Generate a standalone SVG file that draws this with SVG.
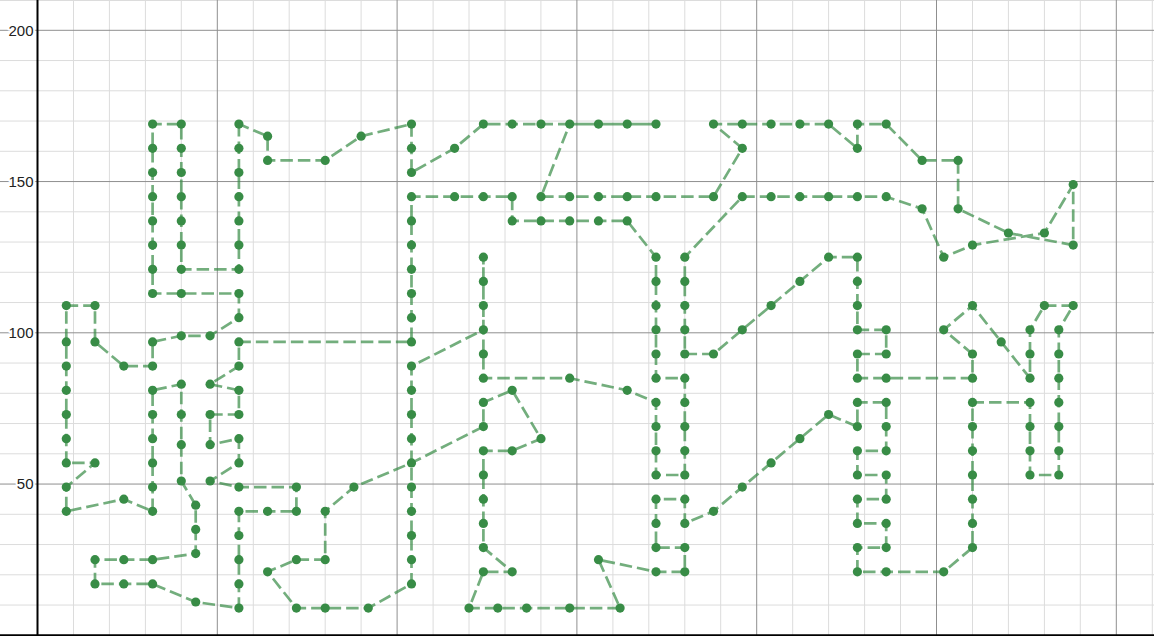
<svg xmlns="http://www.w3.org/2000/svg" width="1154" height="636" viewBox="0 0 1154 636">
<style>
.minor{stroke:#dcdcdc;stroke-width:1}
.major{stroke:#8f8f8f;stroke-width:1}
.axis{stroke:#000;stroke-width:2}
.lbl{font-family:"Liberation Sans",Arial,sans-serif;font-size:15px;fill:#222;text-anchor:end;stroke:#fff;stroke-width:4;paint-order:stroke;stroke-linejoin:round}
.trace{fill:none;stroke:#388c46;stroke-opacity:0.7;stroke-width:2.7;stroke-dasharray:12.5 5;stroke-linejoin:round}
.pt circle{fill:#388c46}
</style>
<defs><circle id="d" r="4.6"/></defs>
<rect width="1154" height="636" fill="#fff"/>
<g id="grid-minor" class="minor">
<path d="M73.5,0V636M109.4,0V636M145.4,0V636M181.3,0V636M253.3,0V636M289.2,0V636M325.2,0V636M361.1,0V636M433.1,0V636M469,0V636M505,0V636M540.9,0V636M612.9,0V636M648.8,0V636M684.8,0V636M720.7,0V636M792.7,0V636M828.6,0V636M864.6,0V636M900.5,0V636M972.5,0V636M1008.4,0V636M1044.4,0V636M1080.3,0V636M1152.3,0V636"/>
<path d="M0,605.05H1154M0,574.8H1154M0,544.55H1154M0,514.3H1154M0,453.8H1154M0,423.55H1154M0,393.3H1154M0,363.05H1154M0,302.55H1154M0,272.3H1154M0,242.05H1154M0,211.8H1154M0,151.3H1154M0,121.05H1154M0,90.8H1154M0,60.55H1154M0,0.5H1154"/>
</g>
<g id="grid-major" class="major">
<path d="M217.3,0V636M397.1,0V636M576.9,0V636M756.7,0V636M936.5,0V636M1116.3,0V636"/>
<path d="M0,484.05H1154M0,332.8H1154M0,181.55H1154M0,30.3H1154"/>
</g>
<g id="axes" class="axis">
<line x1="37.5" y1="0" x2="37.5" y2="636"/>
<line x1="0" y1="635.3" x2="1154" y2="635.3"/>
</g>
<g id="labels">
<text class="lbl" x="33.5" y="35.6">200</text>
<text class="lbl" x="33.5" y="186.8">150</text>
<text class="lbl" x="33.5" y="338.1">100</text>
<text class="lbl" x="33.5" y="489.3">50</text>
</g>
<g id="connectors">
<path class="trace" d="M238.9,124.1 L238.9,148.3 L238.9,172.5 L238.9,196.7 L238.9,220.9 L238.9,245.1 L238.9,269.3 L181.3,269.3 L181.3,245.1 L181.3,220.9 L181.3,196.7 L181.3,172.5 L181.3,148.3 L181.3,124.1 L152.6,124.1 L152.6,148.3 L152.6,172.5 L152.6,196.7 L152.6,220.9 L152.6,245.1 L152.6,269.3 L152.6,293.5 L181.3,293.5 L238.9,293.5 L238.9,317.7 L210.1,335.8 L181.3,335.8 L152.6,341.9 L152.6,366.1 L123.8,366.1 L95,341.9 L95,305.6 L66.3,305.6 L66.3,341.9 L66.3,366.1 L66.3,390.3 L66.3,414.5 L66.3,438.7 L66.3,462.9 L95,462.9 L66.3,487.1 L66.3,511.3 L123.8,499.2 L152.6,511.3 L152.6,487.1 L152.6,462.9 L152.6,438.7 L152.6,414.5 L152.6,390.3 L181.3,384.2 L181.3,414.5 L181.3,444.7 L181.3,481 L195.7,505.2 L195.7,529.4 L195.7,553.6 L152.6,559.7 L123.8,559.7 L95,559.7 L95,583.9 L123.8,583.9 L152.6,583.9 L195.7,602 L238.9,608.1 L238.9,583.9 L238.9,559.7 L238.9,535.5 L238.9,511.3 L267.6,511.3 L296.4,511.3 L296.4,487.1 L238.9,487.1 L210.1,481 L238.9,462.9 L238.9,438.7 L210.1,444.7 L210.1,414.5 L238.9,414.5 L238.9,390.3 L210.1,384.2 L238.9,366.1 L238.9,341.9 L411.5,341.9 L411.5,317.7 L411.5,293.5 L411.5,269.3 L411.5,245.1 L411.5,220.9 L411.5,196.7 L454.6,196.7 L483.4,196.7 L512.2,196.7 L512.2,220.9 L541,220.9 L569.7,220.9 L598.5,220.9 L627.2,220.9 L656,257.2 L656,281.4 L656,305.6 L656,329.8 L656,354 L656,378.2 L684.8,378.2 L684.8,402.4 L684.8,426.6 L684.8,450.8 L684.8,475 L656,475 L656,450.8 L656,426.6 L656,402.4 L627.2,390.3 L569.7,378.2 L483.4,378.2 L483.4,354 L483.4,329.8 L483.4,305.6 L483.4,281.4 L483.4,257.2 L483.4,329.8 L411.5,366.1 L411.5,390.3 L411.5,414.5 L411.5,438.7 L411.5,462.9 L411.5,487.1 L411.5,511.3 L411.5,535.5 L411.5,559.7 L411.5,583.9 L368.3,608.1 L325.2,608.1 L296.4,608.1 L267.6,571.8 L296.4,559.7 L325.2,559.7 L325.2,511.3 L353.9,487.1 L411.5,462.9 L483.4,426.6 L483.4,402.4 L512.2,390.3 L541,438.7 L512.2,450.8 L483.4,450.8 L483.4,475 L483.4,499.2 L483.4,523.4 L483.4,547.6 L512.2,571.8 L483.4,571.8 L469,608.1 L497.8,608.1 L526.6,608.1 L569.7,608.1 L620.1,608.1 L598.5,559.7 L656,571.8 L684.8,571.8 L684.8,547.6 L656,547.6 L656,523.4 L656,499.2 L684.8,499.2 L684.8,523.4 L713.5,511.3 L742.3,487.1 L771.1,462.9 L799.9,438.7 L828.6,414.5 L857.4,426.6 L857.4,402.4 L886.2,402.4 L886.2,426.6 L886.2,450.8 L857.4,450.8 L857.4,475 L886.2,475 L886.2,499.2 L857.4,499.2 L857.4,523.4 L886.2,523.4 L886.2,547.6 L857.4,547.6 L857.4,571.8 L886.2,571.8 L943.7,571.8 L972.5,547.6 L972.5,523.4 L972.5,499.2 L972.5,475 L972.5,450.8 L972.5,426.6 L972.5,402.4 L1030,402.4 L1030,426.6 L1030,450.8 L1030,475 L1058.8,475 L1058.8,450.8 L1058.8,426.6 L1058.8,402.4 L1058.8,378.2 L1058.8,354 L1058.8,329.8 L1073.2,305.6 L1044.4,305.6 L1030,329.8 L1030,354 L1030,378.2 L1001.2,341.9 L972.5,305.6 L943.7,329.8 L972.5,354 L972.5,378.2 L886.2,378.2 L857.4,378.2 L857.4,354 L886.2,354 L886.2,329.8 L857.4,329.8 L857.4,305.6 L857.4,281.4 L857.4,257.2 L828.6,257.2 L799.9,281.4 L771.1,305.6 L742.3,329.8 L713.5,354 L684.8,354 L684.8,329.8 L684.8,305.6 L684.8,281.4 L684.8,257.2 L742.3,196.7 L771.1,196.7 L799.9,196.7 L828.6,196.7 L857.4,196.7 L886.2,196.7 L922.1,208.8 L943.7,257.2 L972.5,245.1 L1044.4,233 L1073.2,184.6 L1073.2,245.1 L1008.4,233 L958.1,208.8 L958.1,160.4 L922.1,160.4 L886.2,124.1 L857.4,124.1 L857.4,148.3 L828.6,124.1 L799.9,124.1 L771.1,124.1 L742.3,124.1 L713.5,124.1 L742.3,148.3 L713.5,196.7 L656,196.7 L627.2,196.7 L598.5,196.7 L569.7,196.7 L541,196.7 L569.7,124.1 L656,124.1 L569.7,124.1 L541,124.1 L512.2,124.1 L483.4,124.1 L454.6,148.3 L411.5,172.5 L411.5,148.3 L411.5,124.1 L361.1,136.2 L325.2,160.4 L267.6,160.4 L267.6,136.2 Z"/>
</g>
<g id="points" class="pt">
<circle cx="238.9" cy="124.1" r="4.6"/><circle cx="238.9" cy="148.3" r="4.6"/><circle cx="238.9" cy="172.5" r="4.6"/><circle cx="238.9" cy="196.7" r="4.6"/><circle cx="238.9" cy="220.9" r="4.6"/><circle cx="238.9" cy="245.1" r="4.6"/><circle cx="238.9" cy="269.3" r="4.6"/><circle cx="238.9" cy="293.5" r="4.6"/><circle cx="238.9" cy="317.7" r="4.6"/><circle cx="238.9" cy="341.9" r="4.6"/><circle cx="238.9" cy="366.1" r="4.6"/><circle cx="238.9" cy="390.3" r="4.6"/><circle cx="238.9" cy="414.5" r="4.6"/><circle cx="238.9" cy="438.7" r="4.6"/><circle cx="238.9" cy="462.9" r="4.6"/><circle cx="238.9" cy="487.1" r="4.6"/><circle cx="238.9" cy="511.3" r="4.6"/><circle cx="238.9" cy="535.5" r="4.6"/><circle cx="238.9" cy="559.7" r="4.6"/><circle cx="238.9" cy="583.9" r="4.6"/><circle cx="238.9" cy="608.1" r="4.6"/>
<circle cx="181.3" cy="124.1" r="4.6"/><circle cx="181.3" cy="148.3" r="4.6"/><circle cx="181.3" cy="172.5" r="4.6"/><circle cx="181.3" cy="196.7" r="4.6"/><circle cx="181.3" cy="220.9" r="4.6"/><circle cx="181.3" cy="245.1" r="4.6"/><circle cx="181.3" cy="269.3" r="4.6"/><circle cx="181.3" cy="293.5" r="4.6"/><circle cx="181.3" cy="335.8" r="4.6"/><circle cx="181.3" cy="384.2" r="4.6"/><circle cx="181.3" cy="414.5" r="4.6"/><circle cx="181.3" cy="444.7" r="4.6"/><circle cx="181.3" cy="481" r="4.6"/>
<circle cx="152.6" cy="124.1" r="4.6"/><circle cx="152.6" cy="148.3" r="4.6"/><circle cx="152.6" cy="172.5" r="4.6"/><circle cx="152.6" cy="196.7" r="4.6"/><circle cx="152.6" cy="220.9" r="4.6"/><circle cx="152.6" cy="245.1" r="4.6"/><circle cx="152.6" cy="269.3" r="4.6"/><circle cx="152.6" cy="293.5" r="4.6"/><circle cx="152.6" cy="341.9" r="4.6"/><circle cx="152.6" cy="366.1" r="4.6"/><circle cx="152.6" cy="390.3" r="4.6"/><circle cx="152.6" cy="414.5" r="4.6"/><circle cx="152.6" cy="438.7" r="4.6"/><circle cx="152.6" cy="462.9" r="4.6"/><circle cx="152.6" cy="487.1" r="4.6"/><circle cx="152.6" cy="511.3" r="4.6"/><circle cx="152.6" cy="559.7" r="4.6"/><circle cx="152.6" cy="583.9" r="4.6"/>
<circle cx="210.1" cy="335.8" r="4.6"/><circle cx="210.1" cy="384.2" r="4.6"/><circle cx="210.1" cy="414.5" r="4.6"/><circle cx="210.1" cy="444.7" r="4.6"/><circle cx="210.1" cy="481" r="4.6"/>
<circle cx="123.8" cy="366.1" r="4.6"/><circle cx="123.8" cy="499.2" r="4.6"/><circle cx="123.8" cy="559.7" r="4.6"/><circle cx="123.8" cy="583.9" r="4.6"/>
<circle cx="95" cy="341.9" r="4.6"/><circle cx="95" cy="305.6" r="4.6"/><circle cx="95" cy="462.9" r="4.6"/><circle cx="95" cy="559.7" r="4.6"/><circle cx="95" cy="583.9" r="4.6"/>
<circle cx="66.3" cy="305.6" r="4.6"/><circle cx="66.3" cy="341.9" r="4.6"/><circle cx="66.3" cy="366.1" r="4.6"/><circle cx="66.3" cy="390.3" r="4.6"/><circle cx="66.3" cy="414.5" r="4.6"/><circle cx="66.3" cy="438.7" r="4.6"/><circle cx="66.3" cy="462.9" r="4.6"/><circle cx="66.3" cy="487.1" r="4.6"/><circle cx="66.3" cy="511.3" r="4.6"/>
<circle cx="195.7" cy="505.2" r="4.6"/><circle cx="195.7" cy="529.4" r="4.6"/><circle cx="195.7" cy="553.6" r="4.6"/><circle cx="195.7" cy="602" r="4.6"/>
<circle cx="267.6" cy="511.3" r="4.6"/><circle cx="267.6" cy="571.8" r="4.6"/><circle cx="267.6" cy="160.4" r="4.6"/><circle cx="267.6" cy="136.2" r="4.6"/>
<circle cx="296.4" cy="511.3" r="4.6"/><circle cx="296.4" cy="487.1" r="4.6"/><circle cx="296.4" cy="608.1" r="4.6"/><circle cx="296.4" cy="559.7" r="4.6"/>
<circle cx="325.2" cy="608.1" r="4.6"/><circle cx="325.2" cy="559.7" r="4.6"/><circle cx="325.2" cy="511.3" r="4.6"/><circle cx="325.2" cy="160.4" r="4.6"/>
<circle cx="353.9" cy="487.1" r="4.6"/><circle cx="361.1" cy="136.2" r="4.6"/><circle cx="368.3" cy="608.1" r="4.6"/>
<circle cx="411.5" cy="124.1" r="4.6"/><circle cx="411.5" cy="148.3" r="4.6"/><circle cx="411.5" cy="172.5" r="4.6"/><circle cx="411.5" cy="196.7" r="4.6"/><circle cx="411.5" cy="220.9" r="4.6"/><circle cx="411.5" cy="245.1" r="4.6"/><circle cx="411.5" cy="269.3" r="4.6"/><circle cx="411.5" cy="293.5" r="4.6"/><circle cx="411.5" cy="317.7" r="4.6"/><circle cx="411.5" cy="341.9" r="4.6"/><circle cx="411.5" cy="366.1" r="4.6"/><circle cx="411.5" cy="390.3" r="4.6"/><circle cx="411.5" cy="414.5" r="4.6"/><circle cx="411.5" cy="438.7" r="4.6"/><circle cx="411.5" cy="462.9" r="4.6"/><circle cx="411.5" cy="487.1" r="4.6"/><circle cx="411.5" cy="511.3" r="4.6"/><circle cx="411.5" cy="535.5" r="4.6"/><circle cx="411.5" cy="559.7" r="4.6"/><circle cx="411.5" cy="583.9" r="4.6"/>
<circle cx="454.6" cy="196.7" r="4.6"/><circle cx="454.6" cy="148.3" r="4.6"/>
<circle cx="483.4" cy="124.1" r="4.6"/><circle cx="483.4" cy="196.7" r="4.6"/><circle cx="483.4" cy="257.2" r="4.6"/><circle cx="483.4" cy="281.4" r="4.6"/><circle cx="483.4" cy="305.6" r="4.6"/><circle cx="483.4" cy="329.8" r="4.6"/><circle cx="483.4" cy="354" r="4.6"/><circle cx="483.4" cy="378.2" r="4.6"/><circle cx="483.4" cy="402.4" r="4.6"/><circle cx="483.4" cy="426.6" r="4.6"/><circle cx="483.4" cy="450.8" r="4.6"/><circle cx="483.4" cy="475" r="4.6"/><circle cx="483.4" cy="499.2" r="4.6"/><circle cx="483.4" cy="523.4" r="4.6"/><circle cx="483.4" cy="547.6" r="4.6"/><circle cx="483.4" cy="571.8" r="4.6"/>
<circle cx="469" cy="608.1" r="4.6"/><circle cx="497.8" cy="608.1" r="4.6"/><circle cx="526.6" cy="608.1" r="4.6"/>
<circle cx="512.2" cy="124.1" r="4.6"/><circle cx="512.2" cy="196.7" r="4.6"/><circle cx="512.2" cy="220.9" r="4.6"/><circle cx="512.2" cy="390.3" r="4.6"/><circle cx="512.2" cy="450.8" r="4.6"/><circle cx="512.2" cy="571.8" r="4.6"/>
<circle cx="541" cy="124.1" r="4.6"/><circle cx="541" cy="196.7" r="4.6"/><circle cx="541" cy="220.9" r="4.6"/><circle cx="541" cy="438.7" r="4.6"/>
<circle cx="569.7" cy="124.1" r="4.6"/><circle cx="569.7" cy="196.7" r="4.6"/><circle cx="569.7" cy="220.9" r="4.6"/><circle cx="569.7" cy="378.2" r="4.6"/><circle cx="569.7" cy="608.1" r="4.6"/>
<circle cx="598.5" cy="124.1" r="4.6"/><circle cx="598.5" cy="196.7" r="4.6"/><circle cx="598.5" cy="220.9" r="4.6"/><circle cx="598.5" cy="559.7" r="4.6"/>
<circle cx="620.1" cy="608.1" r="4.6"/>
<circle cx="627.2" cy="124.1" r="4.6"/><circle cx="627.2" cy="196.7" r="4.6"/><circle cx="627.2" cy="220.9" r="4.6"/><circle cx="627.2" cy="390.3" r="4.6"/>
<circle cx="656" cy="124.1" r="4.6"/><circle cx="656" cy="196.7" r="4.6"/><circle cx="656" cy="257.2" r="4.6"/><circle cx="656" cy="281.4" r="4.6"/><circle cx="656" cy="305.6" r="4.6"/><circle cx="656" cy="329.8" r="4.6"/><circle cx="656" cy="354" r="4.6"/><circle cx="656" cy="378.2" r="4.6"/><circle cx="656" cy="402.4" r="4.6"/><circle cx="656" cy="426.6" r="4.6"/><circle cx="656" cy="450.8" r="4.6"/><circle cx="656" cy="475" r="4.6"/><circle cx="656" cy="499.2" r="4.6"/><circle cx="656" cy="523.4" r="4.6"/><circle cx="656" cy="547.6" r="4.6"/><circle cx="656" cy="571.8" r="4.6"/>
<circle cx="684.8" cy="257.2" r="4.6"/><circle cx="684.8" cy="281.4" r="4.6"/><circle cx="684.8" cy="305.6" r="4.6"/><circle cx="684.8" cy="329.8" r="4.6"/><circle cx="684.8" cy="354" r="4.6"/><circle cx="684.8" cy="378.2" r="4.6"/><circle cx="684.8" cy="402.4" r="4.6"/><circle cx="684.8" cy="426.6" r="4.6"/><circle cx="684.8" cy="450.8" r="4.6"/><circle cx="684.8" cy="475" r="4.6"/><circle cx="684.8" cy="499.2" r="4.6"/><circle cx="684.8" cy="523.4" r="4.6"/><circle cx="684.8" cy="547.6" r="4.6"/><circle cx="684.8" cy="571.8" r="4.6"/>
<circle cx="713.5" cy="124.1" r="4.6"/><circle cx="713.5" cy="196.7" r="4.6"/><circle cx="713.5" cy="354" r="4.6"/><circle cx="713.5" cy="511.3" r="4.6"/>
<circle cx="742.3" cy="124.1" r="4.6"/><circle cx="742.3" cy="148.3" r="4.6"/><circle cx="742.3" cy="196.7" r="4.6"/><circle cx="742.3" cy="329.8" r="4.6"/><circle cx="742.3" cy="487.1" r="4.6"/>
<circle cx="771.1" cy="124.1" r="4.6"/><circle cx="771.1" cy="196.7" r="4.6"/><circle cx="771.1" cy="305.6" r="4.6"/><circle cx="771.1" cy="462.9" r="4.6"/>
<circle cx="799.9" cy="124.1" r="4.6"/><circle cx="799.9" cy="196.7" r="4.6"/><circle cx="799.9" cy="281.4" r="4.6"/><circle cx="799.9" cy="438.7" r="4.6"/>
<circle cx="828.6" cy="124.1" r="4.6"/><circle cx="828.6" cy="196.7" r="4.6"/><circle cx="828.6" cy="257.2" r="4.6"/><circle cx="828.6" cy="414.5" r="4.6"/>
<circle cx="857.4" cy="124.1" r="4.6"/><circle cx="857.4" cy="148.3" r="4.6"/><circle cx="857.4" cy="196.7" r="4.6"/><circle cx="857.4" cy="257.2" r="4.6"/><circle cx="857.4" cy="281.4" r="4.6"/><circle cx="857.4" cy="305.6" r="4.6"/><circle cx="857.4" cy="329.8" r="4.6"/><circle cx="857.4" cy="354" r="4.6"/><circle cx="857.4" cy="378.2" r="4.6"/><circle cx="857.4" cy="402.4" r="4.6"/><circle cx="857.4" cy="426.6" r="4.6"/><circle cx="857.4" cy="450.8" r="4.6"/><circle cx="857.4" cy="475" r="4.6"/><circle cx="857.4" cy="499.2" r="4.6"/><circle cx="857.4" cy="523.4" r="4.6"/><circle cx="857.4" cy="547.6" r="4.6"/><circle cx="857.4" cy="571.8" r="4.6"/>
<circle cx="886.2" cy="124.1" r="4.6"/><circle cx="886.2" cy="196.7" r="4.6"/><circle cx="886.2" cy="329.8" r="4.6"/><circle cx="886.2" cy="354" r="4.6"/><circle cx="886.2" cy="378.2" r="4.6"/><circle cx="886.2" cy="402.4" r="4.6"/><circle cx="886.2" cy="426.6" r="4.6"/><circle cx="886.2" cy="450.8" r="4.6"/><circle cx="886.2" cy="475" r="4.6"/><circle cx="886.2" cy="499.2" r="4.6"/><circle cx="886.2" cy="523.4" r="4.6"/><circle cx="886.2" cy="547.6" r="4.6"/><circle cx="886.2" cy="571.8" r="4.6"/>
<circle cx="922.1" cy="160.4" r="4.6"/><circle cx="922.1" cy="208.8" r="4.6"/>
<circle cx="943.7" cy="257.2" r="4.6"/><circle cx="943.7" cy="329.8" r="4.6"/><circle cx="943.7" cy="571.8" r="4.6"/>
<circle cx="958.1" cy="160.4" r="4.6"/><circle cx="958.1" cy="208.8" r="4.6"/>
<circle cx="972.5" cy="245.1" r="4.6"/><circle cx="972.5" cy="305.6" r="4.6"/><circle cx="972.5" cy="354" r="4.6"/><circle cx="972.5" cy="378.2" r="4.6"/><circle cx="972.5" cy="402.4" r="4.6"/><circle cx="972.5" cy="426.6" r="4.6"/><circle cx="972.5" cy="450.8" r="4.6"/><circle cx="972.5" cy="475" r="4.6"/><circle cx="972.5" cy="499.2" r="4.6"/><circle cx="972.5" cy="523.4" r="4.6"/><circle cx="972.5" cy="547.6" r="4.6"/>
<circle cx="1001.2" cy="341.9" r="4.6"/><circle cx="1008.4" cy="233" r="4.6"/>
<circle cx="1030" cy="329.8" r="4.6"/><circle cx="1030" cy="354" r="4.6"/><circle cx="1030" cy="378.2" r="4.6"/><circle cx="1030" cy="402.4" r="4.6"/><circle cx="1030" cy="426.6" r="4.6"/><circle cx="1030" cy="450.8" r="4.6"/><circle cx="1030" cy="475" r="4.6"/>
<circle cx="1044.4" cy="233" r="4.6"/><circle cx="1044.4" cy="305.6" r="4.6"/>
<circle cx="1058.8" cy="329.8" r="4.6"/><circle cx="1058.8" cy="354" r="4.6"/><circle cx="1058.8" cy="378.2" r="4.6"/><circle cx="1058.8" cy="402.4" r="4.6"/><circle cx="1058.8" cy="426.6" r="4.6"/><circle cx="1058.8" cy="450.8" r="4.6"/><circle cx="1058.8" cy="475" r="4.6"/>
<circle cx="1073.2" cy="184.6" r="4.6"/><circle cx="1073.2" cy="245.1" r="4.6"/><circle cx="1073.2" cy="305.6" r="4.6"/>
</g>
</svg>
